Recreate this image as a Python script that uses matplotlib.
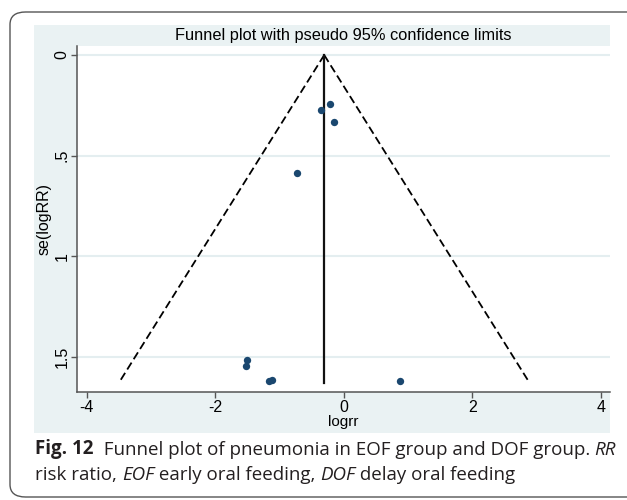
import numpy as np
import matplotlib
matplotlib.use("Agg")
from matplotlib import pyplot as plt
from matplotlib.patches import FancyBboxPatch, Rectangle
from matplotlib.text import Annotation

# study estimates
logrr = [-0.22, -0.355, -0.145, -0.73, -1.505, -1.515, -1.17, -1.11, 0.87]
se_logrr = [0.245, 0.275, 0.335, 0.585, 1.517, 1.544, 1.62, 1.615, 1.618]
pooled = -0.305

xticks = [-4, -2, 0, 2, 4]
yticks = [0, 0.5, 1, 1.5]
ytick_labels = ["0", ".5", "1", "1.5"]

W, H = 627, 500
navy = "#1a476f"
region = "#eaf2f3"
axis_col = "#555555"


def fx(px):
    return px / W


def fy(py):
    return 1 - py / H


fig = plt.figure(figsize=(6.27, 5), dpi=100)

# outer rounded frame of the figure panel
frame = FancyBboxPatch((fx(10), fy(497)), fx(650) - fx(10), fy(12) - fy(497),
                       boxstyle="round,pad=0,rounding_size=0.025",
                       transform=fig.transFigure, facecolor="white",
                       edgecolor="#555555", lw=1.0, zorder=-2)
fig.patches.append(frame)

# stata graph region
bg = Rectangle((fx(34), fy(433)), fx(610) - fx(34), fy(25) - fy(433),
               transform=fig.transFigure, facecolor=region, edgecolor="none",
               zorder=-1)
fig.patches.append(bg)

ax = fig.add_axes([fx(77), fy(392), fx(610) - fx(77), fy(46) - fy(392)])
ax.set_facecolor("white")

se_max = max(se_logrr)
se_line = np.array([0, se_max])
ax.plot(pooled - 1.96 * se_line, se_line, color="black", lw=1.3,
        dashes=(4.5, 2.2), zorder=2)
ax.plot(pooled + 1.96 * se_line, se_line, color="black", lw=1.3,
        dashes=(4.5, 2.2), zorder=2)
ax.plot([pooled, pooled], [0, se_max + 0.01], color="#111111", lw=1.6, zorder=2)

ax.scatter(logrr, se_logrr, s=28, color=navy, zorder=3, linewidths=0)

ax.set_xlim(-4.15, 4.14)
ax.set_ylim(1.675, -0.045)
ax.set_xticks(xticks)
ax.set_xticklabels([str(t) for t in xticks])
ax.set_yticks(yticks)
ax.set_yticklabels(ytick_labels, rotation=90, va="center")

for y in yticks:
    ax.axhline(y, color="#e4eef0", lw=1.5, zorder=1)

for side in ["top", "right"]:
    ax.spines[side].set_visible(False)
for side in ["left", "bottom"]:
    ax.spines[side].set_color(axis_col)
    ax.spines[side].set_linewidth(1.1)

ax.tick_params(direction="out", length=4, width=1.0, color=axis_col,
               labelsize=11.5, pad=1.5)
for lab in ax.get_xticklabels() + ax.get_yticklabels():
    lab.set_family("Liberation Sans")

ax.set_xlabel("logrr", fontsize=11, family="Liberation Sans", labelpad=0.5)
ax.set_ylabel("se(logRR)", fontsize=11.5, family="Liberation Sans", labelpad=2)
ax.set_title("Funnel plot with pseudo 95% confidence limits", fontsize=11.8,
             family="Liberation Sans", pad=4)

# caption, pieced together so bold / italic parts line up
cap_size = 13.5
cap_font = "Open Sans"
parts1 = [("Fig. 12", "bold", "normal"),
          ("  Funnel plot of pneumonia in EOF group and DOF group. ", "normal", "normal"),
          ("RR", "normal", "italic")]
parts2 = [("risk ratio, ", "normal", "normal"),
          ("EOF", "normal", "italic"),
          (" early oral feeding, ", "normal", "normal"),
          ("DOF", "normal", "italic"),
          (" delay oral feeding", "normal", "normal")]


def caption(parts, y):
    prev = fig.text(fx(35), fy(y), parts[0][0], fontsize=cap_size,
                    family=cap_font, weight=parts[0][1], style=parts[0][2],
                    ha="left", va="bottom", color="#231f20")
    for txt, wt, st in parts[1:]:
        a = Annotation(txt, xy=(1, 0), xycoords=prev, ha="left",
                       va="bottom", fontsize=cap_size, family=cap_font,
                       weight=wt, style=st, color="#231f20",
                       annotation_clip=False)
        fig.add_artist(a)
        prev = a


caption(parts1, 459)
caption(parts2, 484)

fig.savefig("out.png", dpi=100)
